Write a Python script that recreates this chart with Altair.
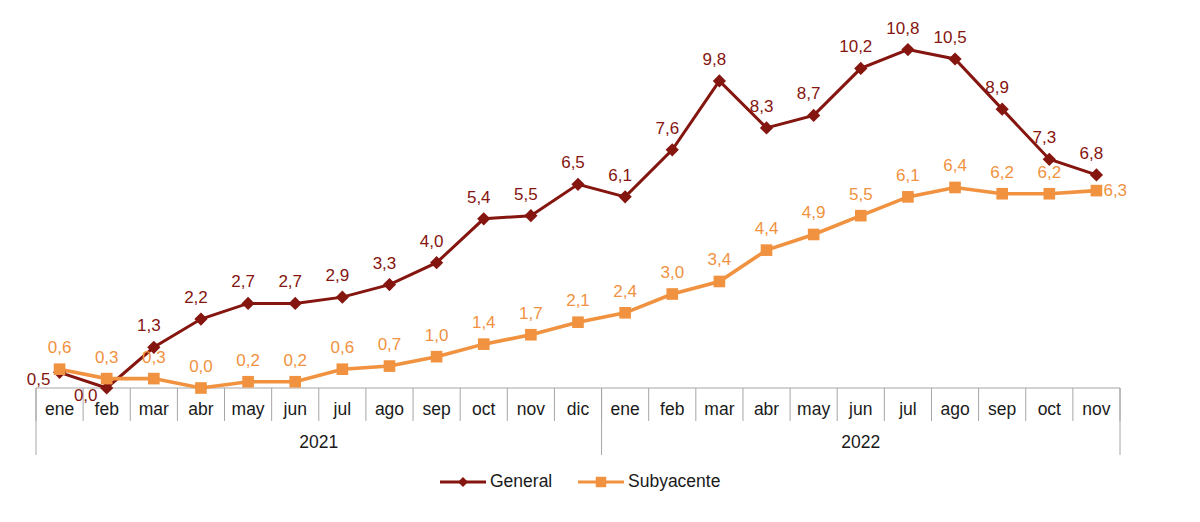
import altair as alt
import pandas as pd

months = ["ene", "feb", "mar", "abr", "may", "jun", "jul", "ago", "sep", "oct", "nov", "dic",
          "ene", "feb", "mar", "abr", "may", "jun", "jul", "ago", "sep", "oct", "nov"]
years = ["2021", "2022"]
year_counts = [12, 11]
general = [0.5, 0.0, 1.3, 2.2, 2.7, 2.7, 2.9, 3.3, 4.0, 5.4, 5.5, 6.5,
           6.1, 7.6, 9.8, 8.3, 8.7, 10.2, 10.8, 10.5, 8.9, 7.3, 6.8]
subyacente = [0.6, 0.3, 0.3, 0.0, 0.2, 0.2, 0.6, 0.7, 1.0, 1.4, 1.7, 2.1,
              2.4, 3.0, 3.4, 4.4, 4.9, 5.5, 6.1, 6.4, 6.2, 6.2, 6.3]
series = ["General", "Subyacente"]
colors = ["#85150F", "#F0923F"]
shapes = ["diamond", "square"]

FONT = "Liberation Sans"
n = len(months)

rows = []
for i in range(n):
    for s, vals in zip(series, [general, subyacente]):
        rows.append({
            "i": i, "mes": months[i], "serie": s, "valor": vals[i],
            "etiqueta": f"{vals[i]:.1f}".replace(".", ","),
            "debajo": bool(s == "General" and general[i] < subyacente[i]),
        })
df = pd.DataFrame(rows)

month_df = pd.DataFrame({"i": list(range(n)), "mes": months})
bounds_df = pd.DataFrame({"b": [k - 0.5 for k in range(n + 1)]})
starts = [sum(year_counts[:k]) for k in range(len(years))]
year_df = pd.DataFrame({
    "anio": years,
    "c": [st + c / 2 - 0.5 for st, c in zip(starts, year_counts)],
})
ybounds_df = pd.DataFrame({"b": [st - 0.5 for st in starts] + [n - 0.5]})
axis_df = pd.DataFrame({"a": [-0.5], "b": [n - 0.5]})

xs = alt.Scale(domain=[-0.5, n - 0.5], nice=False, zero=False)
ys = alt.Scale(domain=[0, 12], nice=False, zero=True)
cs = alt.Scale(domain=series, range=colors)

X = alt.X("i:Q", scale=xs, axis=None)
Y = alt.Y("valor:Q", scale=ys, axis=None)
C = alt.Color("serie:N", scale=cs, legend=None)

base = alt.Chart(df)

lines = base.mark_line().encode(
    x=X, y=Y, color=C,
    strokeWidth=alt.StrokeWidth("serie:N", scale=alt.Scale(domain=series, range=[3.0, 3.6]), legend=None),
)
points = base.mark_point(filled=True, opacity=1).encode(
    x=X, y=Y, color=C,
    shape=alt.Shape("serie:N", scale=alt.Scale(domain=series, range=shapes), legend=None),
    size=alt.Size("serie:N", scale=alt.Scale(domain=series, range=[175, 135]), legend=None),
)

LFS = 17
last = n - 1
labels_gen_up = base.transform_filter(
    "datum.serie == 'General' && !datum.debajo"
).mark_text(font=FONT, fontSize=LFS, dx=-5, dy=-21, baseline="middle").encode(
    x=X, y=Y, text="etiqueta:N", color=C)
labels_gen_down = base.transform_filter(
    "datum.serie == 'General' && datum.debajo"
).mark_text(font=FONT, fontSize=LFS, dx=-21, dy=8, baseline="middle").encode(
    x=X, y=Y, text="etiqueta:N", color=C)
labels_sub = base.transform_filter(
    f"datum.serie == 'Subyacente' && datum.i < {last}"
).mark_text(font=FONT, fontSize=LFS, dx=0, dy=-21, baseline="middle").encode(
    x=X, y=Y, text="etiqueta:N", color=C)
labels_sub_last = base.transform_filter(
    f"datum.serie == 'Subyacente' && datum.i == {last}"
).mark_text(font=FONT, fontSize=LFS, dx=7, dy=0, align="left", baseline="middle").encode(
    x=X, y=Y, text="etiqueta:N", color=C)

grid_color = "#a6a6a6"
TFS = 17.5
baseline = alt.Chart(axis_df).mark_rule(color=grid_color, strokeWidth=1.2).encode(
    x=alt.X("a:Q", scale=xs, axis=None), x2="b:Q", y=alt.Y(datum=0, scale=ys, axis=None))
month_ticks = alt.Chart(bounds_df).mark_rule(color=grid_color, strokeWidth=1).encode(
    x=alt.X("b:Q", scale=xs, axis=None), y=alt.value(376), y2=alt.value(409))
year_ticks = alt.Chart(ybounds_df).mark_rule(color=grid_color, strokeWidth=1).encode(
    x=alt.X("b:Q", scale=xs, axis=None), y=alt.value(376), y2=alt.value(443))
month_labels = alt.Chart(month_df).mark_text(font=FONT, fontSize=TFS, color="#1a1a1a", baseline="middle").encode(
    x=alt.X("i:Q", scale=xs, axis=None), y=alt.value(398), text="mes:N")
year_labels = alt.Chart(year_df).mark_text(font=FONT, fontSize=TFS, color="#1a1a1a", baseline="middle").encode(
    x=alt.X("c:Q", scale=xs, axis=None), y=alt.value(431), text="anio:N")

# manual legend (line + marker + label)
legend_layers = []
for k, (s, col, shp) in enumerate(zip(series, colors, shapes)):
    x0 = 404 + k * 138
    ldf = pd.DataFrame({"s": [s]})
    lc = alt.Chart(ldf)
    legend_layers.append(lc.mark_rule(color=col, strokeWidth=3).encode(
        x=alt.value(x0), x2=alt.value(x0 + 46), y=alt.value(470)))
    legend_layers.append(lc.mark_point(shape=shp, filled=True, opacity=1, color=col,
                                       size=100 if shp == "diamond" else 110).encode(
        x=alt.value(x0 + 23), y=alt.value(470)))
    legend_layers.append(lc.mark_text(font=FONT, fontSize=TFS, color="#1a1a1a", align="left",
                                      baseline="middle").encode(
        x=alt.value(x0 + 50), y=alt.value(470), text="s:N"))

chart = alt.layer(
    baseline, month_ticks, year_ticks, month_labels, year_labels,
    lines, points, labels_sub, labels_sub_last, labels_gen_up, labels_gen_down, *legend_layers,
).properties(
    width=1084, height=376,
    padding={"left": 28, "top": 4, "right": 60, "bottom": 120},
    autosize=alt.AutoSizeParams(type="none"),
    background="white",
).configure_view(stroke=None)

chart.save("out.html", embed_options={"renderer": "svg", "actions": False})
